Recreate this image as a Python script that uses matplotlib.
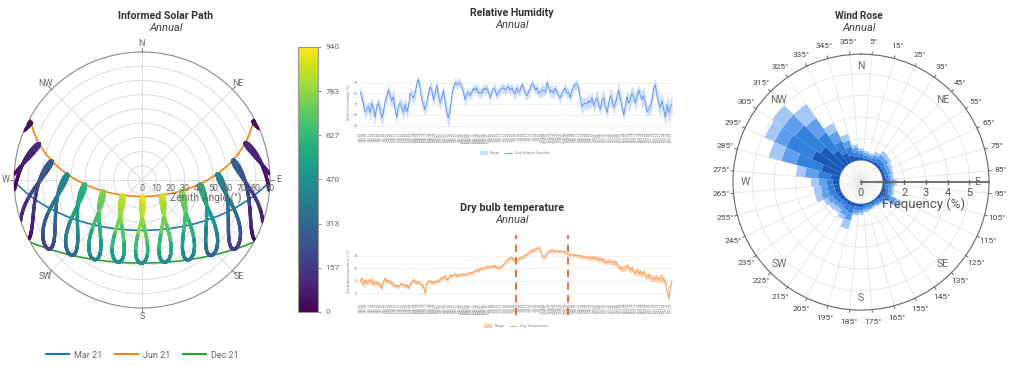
import datetime as dt
import numpy as np
import matplotlib
matplotlib.use("Agg")
import matplotlib.pyplot as plt
from matplotlib.collections import LineCollection
from matplotlib.lines import Line2D
from matplotlib.patches import Patch
from matplotlib.cm import ScalarMappable
from matplotlib.colors import Normalize

plt.rcParams["font.family"] = ["Roboto", "DejaVu Sans"]

# ---------------- solar path data ----------------
latitude = 35.0
analemma_hours = [5, 6, 7, 8, 9, 10, 11, 12, 13, 14, 15, 16, 17, 18, 19]
rad_table = [
    [0, 0, 30, 190, 330, 430, 490, 510, 490, 430, 330, 190, 30, 0, 0],
    [0, 0, 80, 250, 400, 510, 570, 600, 570, 510, 400, 250, 80, 0, 0],
    [0, 20, 150, 320, 480, 600, 680, 710, 680, 600, 480, 320, 150, 20, 0],
    [0, 70, 220, 390, 550, 680, 770, 800, 770, 680, 550, 390, 220, 70, 0],
    [20, 110, 270, 440, 600, 740, 830, 870, 830, 740, 600, 440, 270, 110, 20],
    [40, 130, 290, 460, 630, 770, 860, 910, 860, 770, 630, 460, 290, 130, 40],
    [30, 120, 280, 450, 620, 760, 860, 920, 860, 760, 620, 450, 280, 120, 30],
    [10, 90, 240, 410, 580, 720, 810, 850, 810, 720, 580, 410, 240, 90, 10],
    [0, 50, 190, 360, 520, 650, 740, 780, 740, 650, 520, 360, 190, 50, 0],
    [0, 10, 110, 270, 420, 540, 620, 660, 620, 540, 420, 270, 110, 10, 0],
    [0, 0, 50, 200, 340, 450, 510, 540, 510, 450, 340, 200, 50, 0, 0],
    [0, 0, 20, 170, 300, 400, 460, 480, 460, 400, 300, 170, 20, 0, 0],
]
path_days = [80, 172, 355]
path_labels = ["Mar 21", "Jun 21", "Dec 21"]
path_colors = ["#1f77b4", "#ff7f0e", "#2ca02c"]
cbar_ticks = [0, 157, 313, 470, 627, 783, 940]
compass = ["N", "NE", "E", "SE", "S", "SW", "W", "NW"]

# ---------------- relative humidity (daily) ----------------
rh_avg = [
    81.5, 77, 71, 63, 65, 68, 62, 71, 65, 58,
    68, 71, 65, 57, 62, 73, 77, 83, 78, 73,
    77, 65, 58, 68, 71, 67, 62, 70, 63, 68,
    80, 78, 76, 80, 89, 93, 85, 74, 70, 65,
    71, 80, 86, 83, 74, 80, 88, 77, 71, 76,
    83, 71, 62, 57, 65, 77, 86, 90, 88, 90,
    89, 86, 81, 74, 80, 81, 78, 81, 85, 83,
    85, 80, 81, 80, 85, 83, 85, 81, 76, 81,
    85, 83, 78, 81, 83, 85, 85, 83, 85, 86,
    83, 85, 81, 80,
    85, 81, 83, 88, 85, 80, 78, 81, 85, 89,
    88, 83, 85, 80, 81, 83, 83, 81, 90, 86,
    81, 83, 80, 85, 81, 78, 76, 80, 83, 85,
    80, 81, 76, 83, 86, 88, 89, 85, 74, 68,
    70, 71, 70, 73, 71, 76, 68, 73, 76, 70,
    65, 74, 76, 68, 62, 71, 78, 74, 67, 71,
    77, 83, 76, 67, 60, 68, 77, 71, 74, 80,
    76, 71, 77, 83, 78, 74, 78, 71, 63, 65,
    68, 74, 85, 88, 77, 71, 67, 73, 65, 58,
    70, 62, 68, 70,
]
rh_spread = [
    5, 6, 8, 7, 6, 5, 9, 6, 7, 8, 6, 5, 7, 9, 6, 5, 6, 5, 7, 6,
    8, 9, 7, 6, 5, 7, 8, 6, 7, 5, 6, 5, 6, 7, 4, 5, 6, 8, 7, 6,
    5, 6, 5, 6, 7, 5, 6, 8, 6, 5, 6, 7, 8, 9, 7, 5, 4, 5, 4, 5,
    4, 5, 6, 7, 5, 4, 5, 4, 4, 5, 4, 5, 4, 5, 4, 5, 4, 4, 5, 4,
    4, 5, 5, 4, 4, 5, 4, 5, 4, 4, 5, 4, 5, 6, 5, 4, 5, 4, 4, 5,
    4, 5, 4, 5, 4, 4, 5, 5, 4, 6, 5, 4, 5, 4, 5, 6, 5, 4, 4, 5,
    5, 4, 4, 5, 5, 4, 5, 6, 5, 4, 5, 6, 7, 8, 6, 5, 6, 7, 6, 5,
    6, 7, 8, 6, 5, 7, 8, 6, 5, 6, 7, 9, 6, 5, 7, 8, 6, 5, 6, 7,
    6, 8, 9, 7, 6, 8, 7, 6, 5, 8, 9, 7, 6, 5, 8, 9, 7, 6, 8, 9,
    10, 7, 9, 8, 9, 11, 8, 9,
]

# ---------------- dry bulb temperature (daily) ----------------
temp_avg = [
    14.6, 16, 13.3, 15.3, 14, 15, 14.6, 15.6, 13.3, 14.6,
    14, 14, 13.3, 12, 14.6, 16, 14.6, 15, 14.6, 14,
    13.3, 12.6, 13.3, 12.6, 13.3, 14, 13.3, 12.6, 13.3, 12,
    13.6, 14.6, 15.3, 14.6, 14, 14.6, 14, 13.3, 12.6, 10,
    14, 14.6, 15, 14, 14.6, 14.2, 15, 14.6, 15.6, 16.2,
    16, 17, 15.3, 16, 17.3, 16.6, 17.3, 17.6, 16.6, 17.6,
    17.3, 17.6, 17.3, 17.6, 17.3, 18, 18.2, 18, 18.6, 18.9,
    19.3, 18.9, 20, 19.6, 20.2, 20, 20.6, 20.4, 20.6, 20.9,
    20.6, 21, 20, 20.4, 20, 21, 21.5, 22.3, 22.9, 23.7,
    24.2, 24, 23.7, 22.9,
    23.3, 23.7, 24, 24.2, 24.6, 25, 25.5, 25.9, 26.9, 26.6,
    27.3, 27.5, 27.9, 28.2, 27.3, 25.3, 24, 25, 25.9, 26.6,
    26.9, 27.3, 26.6, 26.9, 26.9, 26.6, 26.9, 26.6, 26.6, 26.3,
    25.9, 25.5, 25.3, 25.5, 25, 25.3, 25, 24.9, 25, 24.6,
    24.3, 24.5, 24.2, 24.3, 24, 23.7, 24.6, 23.7, 24.2, 23.3,
    24, 22.9, 23.7, 22, 22.6, 22.9, 22.3, 22.6, 22, 22.6,
    21.5, 20.6, 20, 19.8, 20, 20.2, 21, 20, 19.3, 20,
    18.6, 18, 19.3, 18, 18.6, 17.6, 18.4, 17, 16.6, 17.3,
    16.2, 16, 15.7, 16, 16.2, 15.3, 16, 16.2, 15.3, 14.6,
    10.7, 8, 12.6, 15.3,
]
temp_spread = [
    1.2, 1.0, 1.4, 0.9, 1.1, 1.3, 0.9, 1.0, 1.2, 0.8, 1.0, 0.9, 1.1, 1.3, 0.8, 1.0, 0.9, 0.8, 0.9, 1.0,
    0.8, 0.9, 0.7, 0.8, 0.9, 0.8, 0.7, 0.9, 0.8, 0.9, 0.8, 0.9, 0.7, 0.8, 0.9, 0.8, 0.7, 0.9, 1.0, 1.6,
    1.0, 0.8, 0.7, 0.9, 0.8, 0.7, 0.8, 0.7, 0.9, 0.8, 0.7, 0.9, 0.8, 0.7, 0.8, 0.7, 0.6, 0.7, 0.8, 0.7,
    0.6, 0.7, 0.6, 0.7, 0.6, 0.7, 0.6, 0.7, 0.6, 0.7, 0.6, 0.7, 0.8, 0.7, 0.6, 0.7, 0.8, 0.7, 0.6, 0.7,
    0.6, 0.7, 0.8, 0.7, 0.8, 0.7, 0.6, 0.7, 0.8, 0.9, 0.8, 0.9, 0.8, 0.7, 0.8, 0.7, 0.8, 0.7, 0.8, 0.9,
    0.8, 0.7, 0.8, 0.9, 0.8, 0.7, 0.8, 0.9, 1.0, 0.8, 0.9, 0.8, 0.7, 0.8, 0.7, 0.8, 0.7, 0.6, 0.7, 0.6,
    0.7, 0.6, 0.7, 0.6, 0.7, 0.6, 0.7, 0.6, 0.7, 0.8, 0.7, 0.8, 0.7, 0.8, 0.7, 0.8, 0.9, 0.8, 0.9, 0.8,
    0.9, 1.0, 0.9, 1.1, 0.9, 1.0, 0.9, 1.2, 1.0, 1.1, 1.0, 1.2, 1.1, 1.0, 1.2, 1.0, 1.1, 1.2, 1.3, 1.1,
    1.2, 1.1, 1.3, 1.2, 1.1, 1.3, 1.2, 1.4, 1.3, 1.2, 1.1, 1.3, 1.2, 1.4, 1.3, 1.2, 1.3, 1.5, 1.4, 1.3,
    1.5, 1.8, 1.4, 1.2, 1.1, 1.3, 1.2, 1.1,
]
summer_marks = [182, 243]

# ---------------- wind rose ----------------
wind_dirs = list(range(0, 360, 10))
calm = [1.0] * 36
speed_1 = [.15, .10, .10, .10, .15, .15, .15, .15, .15, .20, .15, .15, .20, .15, .10, .10, .10, .10,
           .15, .15, .20, .20, .15, .20, .20, .25, .25, .30, .40, .90, 1.5, 1.3, .80, .50, .30, .20]
speed_2 = [.15, .15, .10, .15, .20, .20, .15, .15, .15, .20, .15, .20, .30, .15, .10, .10, .10, .10,
           .15, .15, .30, .25, .20, .20, .25, .30, .30, .30, .60, 1.2, 1.3, 1.4, 1.0, .60, .40, .20]
speed_3 = [.15, .10, .10, .15, .20, .20, .15, .15, .10, .15, .15, .15, .30, .10, .10, .05, .10, .10,
           .10, .15, .35, .25, .20, .20, .25, .35, .30, .35, .60, .70, .60, .70, .80, .50, .30, .20]
speed_4 = [.10, .10, .10, .15, .20, .15, .15, .10, .10, .10, .10, .10, .30, .10, .05, .05, .05, .10,
           .10, .10, .40, .20, .20, .20, .20, .30, .35, .35, .40, .60, .50, .60, .80, .40, .30, .15]
speed_colors = ["#1b58bb", "#3180dc", "#5e9eec", "#a3c8f5"]
angle_labels = [f"{a}\u00b0" for a in range(5, 360, 10)]

GRAY = "#555555"
fig = plt.figure(figsize=(10.24, 3.67), dpi=100)


def fig_text(x_px, y_px, s, **kw):
    fig.text(x_px / 1024, 1 - y_px / 367, s, ha="center", va="center", **kw)


# =============== solar path ===============
ax1 = fig.add_axes([0.01367, 0.1608, 0.25, 0.6975], projection="polar")
ax1.set_theta_zero_location("N")
ax1.set_theta_direction(-1)
ax1.set_ylim(0, 90)
ax1.set_yticks(range(10, 90, 10))
ax1.set_yticklabels([])
ax1.set_thetagrids(range(0, 360, 45), [""] * 8)
ax1.tick_params(axis="x", length=0)
ax1.grid(color="#dcdcdc", lw=0.7)
ax1.spines["polar"].set_color("#8a8a8a")
for i, lab in enumerate(compass):
    a = np.deg2rad(i * 45)
    ax1.plot([a, a], [90, 93], color="#8a8a8a", lw=0.8, clip_on=False)
    ax1.annotate(lab, xy=(a, 90), xytext=(6 * np.sin(a), 6 * np.cos(a)),
                 textcoords="offset points", ha="center", va="center",
                 fontsize=6.5, color="#666666", annotation_clip=False)

phi = np.deg2rad(latitude)


def sun_position(n, solar_hour):
    decl = np.deg2rad(23.44 * np.sin(2 * np.pi * (284 + n) / 365))
    ha = np.deg2rad(15 * (solar_hour - 12))
    alt = np.arcsin(np.sin(phi) * np.sin(decl) + np.cos(phi) * np.cos(decl) * np.cos(ha))
    az = np.arctan2(np.sin(ha), np.cos(ha) * np.sin(phi) - np.tan(decl) * np.cos(phi)) + np.pi
    return az, 90 - np.rad2deg(alt)


for d, lab, col in zip(path_days, path_labels, path_colors):
    t = np.linspace(0, 24, 1000)
    az, zen = sun_position(d, t)
    m = zen < 90
    ax1.plot(az[m], zen[m], color=col, lw=1.2, zorder=2)

norm = Normalize(0, 940)
days = np.arange(1, 367)
start = dt.date(2019, 1, 1)
months = np.array([(start + dt.timedelta(days=int(n - 1) % 365)).month - 1 for n in days])
for j, hr in enumerate(analemma_hours):
    B = 2 * np.pi * (days - 81) / 364
    eot = 9.87 * np.sin(2 * B) - 7.53 * np.cos(B) - 1.5 * np.sin(B)
    az, zen = sun_position(days, hr + eot / 60)
    vals = np.array([rad_table[m][j] for m in months])
    pts = np.column_stack([az, zen])
    segs, cols = [], []
    for k in range(len(days) - 1):
        if zen[k] < 90 and zen[k + 1] < 90:
            segs.append(pts[k:k + 2])
            cols.append(vals[k])
    lc = LineCollection(segs, cmap="viridis", norm=norm, linewidths=2.4, zorder=3,
                        capstyle="round")
    lc.set_array(np.array(cols))
    ax1.add_collection(lc)

for r in range(0, 91, 10):
    ax1.annotate(str(r), xy=(np.pi / 2, r), xytext=(0, -6), textcoords="offset points",
                 ha="center", va="center", fontsize=6.5, color="#666666")
ax1.annotate("Zenith Angle (\u00b0)", xy=(np.pi / 2, 45), xytext=(0, -13),
             textcoords="offset points", ha="center", va="center", fontsize=7.5, color="#666666")

cax = fig.add_axes([0.291, 0.150, 0.0195, 0.722])
cb = fig.colorbar(ScalarMappable(norm=norm, cmap="viridis"), cax=cax, ticks=cbar_ticks)
cb.outline.set_edgecolor("#999999")
cb.ax.tick_params(labelsize=6, colors="#666666", length=2, width=0.5)

handles = [Line2D([], [], color=c, lw=1.5) for c in path_colors]
leg = fig.legend(handles, path_labels, loc="center", bbox_to_anchor=(142 / 1024, 1 - 355 / 367),
                 ncol=3, frameon=False, fontsize=6.5, handlelength=2.6, columnspacing=1.4,
                 handletextpad=0.5)
for t in leg.get_texts():
    t.set_color("#666666")

fig_text(166, 16, "Informed Solar Path", fontsize=7.6, fontweight="bold", color="#333333")
fig_text(166, 28, "Annual", fontsize=8, style="italic", color="#444444")


# =============== time series panels ===============
tick_days = np.arange(0, 364, 2.5)
tick_labels = [(start + dt.timedelta(days=int(d))).strftime("%b %d") for d in tick_days]


def series_panel(rect, avg, spread, line_col, band_col, ylim, yticks, ylabel):
    ax = fig.add_axes(rect)
    x = np.linspace(0, 364, len(avg))
    avg = np.array(avg)
    spread = np.array(spread)
    ax.fill_between(x, avg - spread, avg + spread, color=band_col, lw=0, zorder=1)
    ax.plot(x, avg, color=line_col, lw=0.6, zorder=2)
    ax.set_xlim(0, 364)
    ax.set_ylim(*ylim)
    ax.set_yticks(yticks)
    ax.set_xticks(tick_days)
    ax.set_xticklabels(tick_labels, rotation=90, fontsize=2.2, color="#888888")
    ax.tick_params(axis="both", length=0, pad=1.5)
    ax.tick_params(axis="y", labelsize=2.8, labelcolor="#888888")
    ax.set_ylabel(ylabel, fontsize=2.8, color="#888888", labelpad=2)
    ax.grid(axis="y", color="#eeeeee", lw=0.6)
    ax.set_axisbelow(True)
    for s in ax.spines.values():
        s.set_visible(False)
    return ax


ax2 = series_panel([0.3516, 0.643, 0.3047, 0.1553], rh_avg, rh_spread, "#5b8ff0", "#cfe0fb",
                   (45, 98), [50, 60, 70, 80, 90], "Relative humidity (%)")
fig.legend([Patch(color="#cfe0fb"), Line2D([], [], color="#5b8ff0", lw=0.6)],
           ["Range", "Avg Relative Humidity"], loc="center",
           bbox_to_anchor=(515 / 1024, 1 - 153 / 367), ncol=2, frameon=False, fontsize=2.6,
           handlelength=2, columnspacing=1.5, labelcolor="#888888")
fig_text(512, 13, "Relative Humidity", fontsize=7.6, fontweight="bold", color="#333333")
fig_text(512, 25, "Annual", fontsize=8, style="italic", color="#444444")

ax3 = series_panel([0.3516, 0.1771, 0.3047, 0.1673], temp_avg, temp_spread, "#f79a52", "#fcd2b0",
                   (6.5, 31), [10, 15, 20, 25], "Dry bulb temperature (\u00b0C)")
for d in summer_marks:
    ax3.axvline(d, ymin=-0.21, ymax=1.09, color="#e8622a", lw=1.3, ls=(0, (4, 3)),
                clip_on=False, zorder=3)
fig.legend([Patch(color="#fcd2b0"), Line2D([], [], color="#f79a52", lw=0.6)],
           ["Range", "Avg Temperature"], loc="center",
           bbox_to_anchor=(516 / 1024, 1 - 326 / 367), ncol=2, frameon=False, fontsize=2.6,
           handlelength=2, columnspacing=1.5, labelcolor="#888888")
fig_text(512, 208, "Dry bulb temperature", fontsize=7.8, fontweight="bold", color="#333333")
fig_text(512, 220, "Annual", fontsize=8, style="italic", color="#444444")


# =============== wind rose ===============
ax4 = fig.add_axes([0.7158, 0.155, 0.25, 0.6975], projection="polar")
ax4.set_theta_zero_location("N")
ax4.set_theta_direction(-1)
theta = np.deg2rad(wind_dirs)
width = np.deg2rad(10)
ax4.bar(theta, calm, width, bottom=0, color="white", edgecolor="#e2e2e2", lw=0.3, zorder=2)
bottom = np.array(calm)
for seg, col in zip([speed_1, speed_2, speed_3, speed_4], speed_colors):
    ax4.bar(theta, seg, width, bottom=bottom, color=col, lw=0, zorder=2)
    bottom = bottom + np.array(seg)
ax4.set_ylim(0, 5.9)
ax4.set_yticks([1, 2, 3, 4, 5])
ax4.set_yticklabels([])
ax4.set_thetagrids(range(5, 360, 10), angle_labels)
ax4.tick_params(axis="x", pad=2, length=0, labelsize=6, labelcolor="#444444")
ax4.grid(color="#e6e6e6", lw=0.6)
ax4.set_axisbelow(True)
ax4.spines["polar"].set_color("#666666")
for a in range(5, 360, 10):
    ax4.plot([np.deg2rad(a)] * 2, [5.9, 6.02], color="#666666", lw=0.7, clip_on=False)

ax4.plot([np.pi / 2] * 2, [0, 5.9], color="#666666", lw=1.3, zorder=4, clip_on=False)
for r in range(0, 6):
    ax4.plot(np.pi / 2, r, marker="|", ms=3, color="#666666", zorder=4)
    ax4.annotate(str(r), xy=(np.pi / 2, r), xytext=(0, -8), textcoords="offset points",
                 ha="center", va="center", fontsize=8, color=GRAY)
ax4.annotate("Frequency (%)", xy=(np.pi / 2, 2.9), xytext=(0, -16), textcoords="offset points",
             ha="center", va="center", fontsize=9.5, color=GRAY)
for i, lab in enumerate(compass):
    ax4.text(np.deg2rad(i * 45), 5.35, lab, ha="center", va="center", fontsize=7.5, color="#666666")

fig_text(859, 16, "Wind Rose", fontsize=7.2, fontweight="bold", color="#333333")
fig_text(859, 28, "Annual", fontsize=8, style="italic", color="#444444")

fig.savefig("out.png", dpi=100, facecolor="white")
